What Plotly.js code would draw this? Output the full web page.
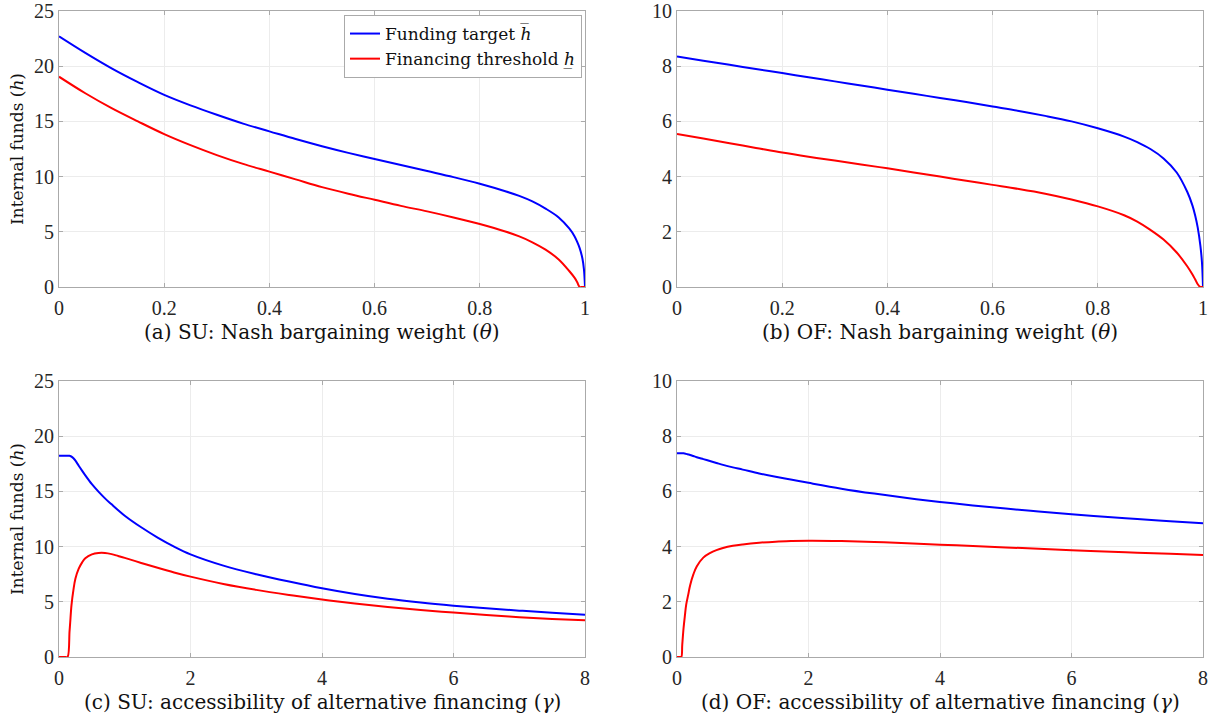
<!DOCTYPE html>
<html>
<head>
<meta charset="utf-8">
<script src="https://cdn.plot.ly/plotly-3.0.1.min.js"></script>
<style>html,body{margin:0;padding:0;background:#fff;}#chart{width:1213px;height:721px;}</style>
</head>
<body>
<div id="chart"></div>
<script>
// ---- Data ----
// Panels (a) and (b): Nash bargaining weight theta
const theta = [0, 0.05, 0.1, 0.15, 0.2, 0.25, 0.3, 0.35, 0.4, 0.45, 0.5, 0.55, 0.6, 0.65, 0.7, 0.75, 0.8, 0.85, 0.875, 0.9, 0.925, 0.95, 0.97, 0.98, 0.985, 0.99, 0.995, 0.998, 1];
const suThetaTarget = [22.7, 21.2, 19.8, 18.55, 17.4, 16.45, 15.6, 14.8, 14.1, 13.4, 12.75, 12.15, 11.6, 11.05, 10.5, 9.95, 9.35, 8.65, 8.25, 7.75, 7.1, 6.3, 5.3, 4.6, 4.1, 3.5, 2.6, 1.6, 0];
const suThetaThreshold = [19.05, 17.55, 16.2, 15.0, 13.85, 12.85, 11.95, 11.15, 10.45, 9.75, 9.05, 8.45, 7.9, 7.35, 6.85, 6.3, 5.7, 5.0, 4.58, 4.05, 3.38, 2.5, 1.45, 0.85, 0.45, 0, 0, 0, 0];
const ofThetaTarget = [8.35, 8.2, 8.05, 7.9, 7.75, 7.6, 7.45, 7.3, 7.15, 7.0, 6.85, 6.7, 6.54, 6.38, 6.2, 6.0, 5.75, 5.45, 5.25, 5.0, 4.66, 4.15, 3.45, 2.95, 2.6, 2.15, 1.5, 0.9, 0];
const ofThetaThreshold = [5.54, 5.38, 5.21, 5.04, 4.87, 4.72, 4.58, 4.44, 4.3, 4.15, 4.0, 3.85, 3.7, 3.55, 3.38, 3.17, 2.92, 2.6, 2.37, 2.07, 1.72, 1.25, 0.75, 0.45, 0.28, 0.1, 0, 0, 0];

// Panel (c): SU, accessibility of alternative financing gamma
const gammaSU = [0, 0.1, 0.13, 0.16, 0.17, 0.19, 0.22, 0.25, 0.3, 0.35, 0.4, 0.5, 0.6, 0.7, 0.8, 0.9, 1.0, 1.25, 1.5, 1.75, 2, 2.5, 3, 3.5, 4, 4.5, 5, 5.5, 6, 6.5, 7, 7.5, 8];
const suGammaTarget = [18.22, 18.22, 18.22, 18.22, 18.21, 18.15, 18.0, 17.78, 17.33, 16.88, 16.45, 15.65, 14.98, 14.37, 13.83, 13.3, 12.8, 11.75, 10.82, 10.0, 9.3, 8.28, 7.5, 6.83, 6.22, 5.7, 5.27, 4.93, 4.65, 4.41, 4.2, 4.0, 3.83];
const suGammaThreshold = [0, 0, 0, 2.3, 3.1, 4.7, 6.1, 7.1, 8.0, 8.55, 8.95, 9.3, 9.42, 9.42, 9.32, 9.15, 8.98, 8.52, 8.08, 7.66, 7.28, 6.62, 6.08, 5.62, 5.2, 4.84, 4.53, 4.26, 4.02, 3.8, 3.61, 3.45, 3.32];

// Panel (d): OF, accessibility of alternative financing gamma
const gammaOF = [0, 0.05, 0.066, 0.08, 0.1, 0.12, 0.14, 0.17, 0.2, 0.25, 0.3, 0.4, 0.5, 0.6, 0.7, 0.85, 1.0, 1.25, 1.5, 1.75, 2, 2.5, 3, 3.5, 4, 4.5, 5, 5.5, 6, 6.5, 7, 7.5, 8];
const ofGammaTarget = [7.38, 7.38, 7.38, 7.38, 7.38, 7.37, 7.36, 7.34, 7.32, 7.28, 7.24, 7.17, 7.1, 7.03, 6.96, 6.87, 6.79, 6.65, 6.53, 6.42, 6.31, 6.1, 5.92, 5.76, 5.62, 5.49, 5.38, 5.27, 5.17, 5.08, 5.0, 4.92, 4.85];
const ofGammaThreshold = [0, 0, 0, 0.45, 1.05, 1.5, 1.9, 2.25, 2.6, 3.0, 3.28, 3.6, 3.76, 3.87, 3.95, 4.03, 4.08, 4.14, 4.18, 4.2, 4.21, 4.2, 4.17, 4.12, 4.07, 4.02, 3.97, 3.92, 3.87, 3.82, 3.78, 3.74, 3.7];

// Labels
const seriesNames = ['Funding target <i>h\u0305</i>', 'Financing threshold <i>h\u0332</i>'];
const xTitles = [
  '(a) SU: Nash bargaining weight (<i>θ</i>)',
  '(b) OF: Nash bargaining weight (<i>θ</i>)',
  '(c) SU: accessibility of alternative financing (<i>γ</i>)',
  '(d) OF: accessibility of alternative financing (<i>γ</i>)'
];
const yTitle = 'Internal funds (<i>h</i>)';

// ---- Styling ----
const TICKFONT = '"Liberation Serif", "DejaVu Serif", serif';
const TEXTFONT = '"DejaVu Serif", "Liberation Serif", serif';
const BLUE = '#0000ff', RED = '#ff0000';
const LINE_W = 2;

function tr(x, y, color, xa, ya, name, showlegend) {
  return {x: x, y: y, type: 'scatter', mode: 'lines', name: name,
    line: {color: color, width: LINE_W, shape: 'spline', smoothing: 1.0}, xaxis: xa, yaxis: ya,
    showlegend: showlegend, hoverinfo: 'skip'};
}

const data = [
  tr(theta, suThetaTarget, BLUE, 'x', 'y', seriesNames[0], true),
  tr(theta, suThetaThreshold, RED, 'x', 'y', seriesNames[1], true),
  tr(theta, ofThetaTarget, BLUE, 'x2', 'y2', seriesNames[0], false),
  tr(theta, ofThetaThreshold, RED, 'x2', 'y2', seriesNames[1], false),
  tr(gammaSU, suGammaTarget, BLUE, 'x3', 'y3', seriesNames[0], false),
  tr(gammaSU, suGammaThreshold, RED, 'x3', 'y3', seriesNames[1], false),
  tr(gammaOF, ofGammaTarget, BLUE, 'x4', 'y4', seriesNames[0], false),
  tr(gammaOF, ofGammaThreshold, RED, 'x4', 'y4', seriesNames[1], false)
];

const W = 1213, H = 721;
const colL = [59 / W, 585 / W], colR = [677 / W, 1203 / W];
const rowT = [1 - 287 / H, 1 - 11 / H], rowB = [1 - 657 / H, 1 - 381 / H];

function axBase() {
  return {
    showline: true, linecolor: '#aaaaaa', linewidth: 1, mirror: 'ticks',
    showgrid: true, gridcolor: '#ececec', gridwidth: 1, zeroline: false,
    ticks: 'inside', ticklen: 4, tickcolor: '#aaaaaa', tickwidth: 1,
    tickfont: {family: TICKFONT, size: 20, color: '#262626'},
    automargin: false, fixedrange: true
  };
}
function xAx(domain, range, dtick, anchor) {
  return Object.assign(axBase(), {domain: domain, range: range, dtick: dtick, tick0: 0, anchor: anchor, ticklabelstandoff: 3});
}
function yAx(domain, range, dtick, title, anchor) {
  const a = Object.assign(axBase(), {domain: domain, range: range, dtick: dtick, tick0: 0, anchor: anchor});
  if (title) a.title = {text: title, font: {family: TEXTFONT, size: 17, color: '#111'}, standoff: 6};
  return a;
}

// Panel captions placed under each x axis (relative to the axis domain)
const axisPairs = [['x', 'y'], ['x2', 'y2'], ['x3', 'y3'], ['x4', 'y4']];
const annotations = xTitles.map((t, i) => ({
  text: t, xref: axisPairs[i][0] + ' domain', yref: axisPairs[i][1] + ' domain',
  x: 0.5, y: 0, xanchor: 'center', yanchor: 'middle', yshift: -45, showarrow: false,
  font: {family: TEXTFONT, size: 20, color: '#111'}
}));

const layout = {
  width: W, height: H,
  margin: {l: 0, r: 0, t: 0, b: 0, pad: 0},
  paper_bgcolor: '#fff', plot_bgcolor: '#fff',
  font: {family: TEXTFONT, color: '#262626'},
  xaxis: xAx(colL, [0, 1], 0.2, 'y'),
  yaxis: yAx(rowT, [0, 25], 5, yTitle, 'x'),
  xaxis2: xAx(colR, [0, 1], 0.2, 'y2'),
  yaxis2: yAx(rowT, [0, 10], 2, null, 'x2'),
  xaxis3: xAx(colL, [0, 8], 2, 'y3'),
  yaxis3: yAx(rowB, [0, 25], 5, yTitle, 'x3'),
  xaxis4: xAx(colR, [0, 8], 2, 'y4'),
  yaxis4: yAx(rowB, [0, 10], 2, null, 'x4'),
  annotations: annotations,
  showlegend: true,
  legend: {
    x: 582 / W, xanchor: 'right', y: 1 - 15 / H, yanchor: 'top',
    bgcolor: '#ffffff', bordercolor: '#aaaaaa', borderwidth: 1,
    font: {family: TEXTFONT, size: 17, color: '#111'},
    itemwidth: 30, tracegroupgap: 0
  }
};

Plotly.newPlot('chart', data, layout, {staticPlot: true, displayModeBar: false});
</script>
</body>
</html>
